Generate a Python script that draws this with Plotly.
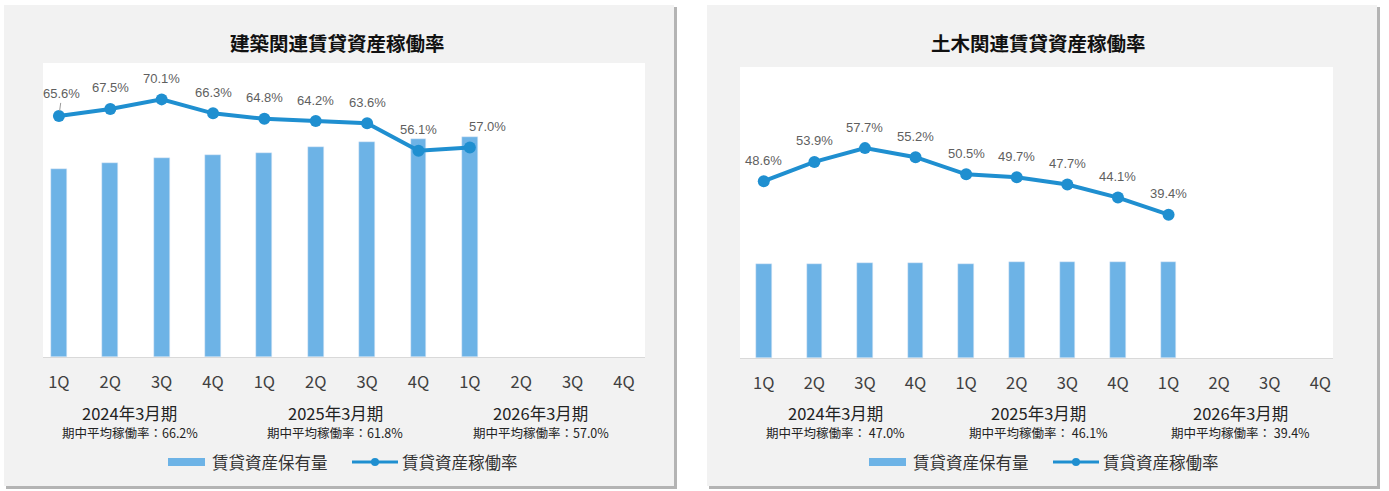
import plotly.graph_objects as go

# ---- data -------------------------------------------------------------
quarters = ["1Q", "2Q", "3Q", "4Q", "1Q", "2Q", "3Q", "4Q", "1Q", "2Q", "3Q", "4Q"]
periods = ["2024年3月期", "2025年3月期", "2026年3月期"]

bld_title = "建築関連賃貸資産稼働率"
bld_rate = [65.6, 67.5, 70.1, 66.3, 64.8, 64.2, 63.6, 56.1, 57.0]
bld_holdings = [64.0, 66.1, 67.8, 68.8, 69.5, 71.6, 73.3, 74.3, 75.0]
bld_avg = [66.2, 61.8, 57.0]

civ_title = "土木関連賃貸資産稼働率"
civ_rate = [48.6, 53.9, 57.7, 55.2, 50.5, 49.7, 47.7, 44.1, 39.4]
civ_holdings = [32.3, 32.3, 32.5, 32.5, 32.3, 33.1, 33.1, 33.1, 33.1]
civ_avg = [47.0, 46.1, 39.4]

bar_name = "賃貸資産保有量"
line_name = "賃貸資産稼働率"
avg_label = "期中平均稼働率"

# ---- styling ----------------------------------------------------------
W, H = 1389, 491
BAR = "#6db3e6"
LINE = "#1f8fd0"
CARD = "#f2f2f2"
SHADOW = "#b4b4b4"
CJK = "Noto Sans CJK JP, Noto Sans, sans-serif"
NUM = "Liberation Sans, Arial, sans-serif"


def px(x):
    return x / W


def py(y):
    return 1 - y / H


panels = [
    dict(title=bld_title, rate=bld_rate, hold=bld_holdings, avg=bld_avg,
         card=(4, 5, 674, 486), plot=(43, 63, 645, 357), xr=(-0.31, 11.41),
         title_x=337, legend_x=168, sep="：", xs="x", yb="y", yl="y2",
         shifts={0: (3, True), 8: (18, False)}, year_dx=-6),
    dict(title=civ_title, rate=civ_rate, hold=civ_holdings, avg=civ_avg,
         card=(707, 5, 1377, 486), plot=(740, 67, 1333, 358), xr=(-0.47, 11.25),
         title_x=1038, legend_x=869, sep="： ", xs="x2", yb="y3", yl="y4",
         shifts={}, year_dx=-4),
]

fig = go.Figure()
shapes = []
annotations = []


def note(**kw):
    kw.setdefault("showarrow", False)
    kw.setdefault("xanchor", "center")
    kw.setdefault("yanchor", "middle")
    annotations.append(kw)


for i, p in enumerate(panels):
    n = len(p["rate"])
    xs = list(range(n))
    fig.add_trace(go.Bar(x=xs, y=p["hold"], name=bar_name, marker_color=BAR,
                         width=0.31, xaxis=p["xs"], yaxis=p["yb"], showlegend=False))
    fig.add_trace(go.Scatter(x=xs, y=p["rate"], name=line_name, mode="lines+markers",
                             line=dict(color=LINE, width=4),
                             marker=dict(color=LINE, size=12),
                             xaxis=p["xs"], yaxis=p["yl"], showlegend=False))

    # card with a soft drop shadow, then the white plot area
    cx0, cy0, cx1, cy1 = p["card"]
    shapes.append(dict(type="rect", xref="paper", yref="paper", layer="below",
                       x0=px(cx0 + 2), x1=px(cx1 + 3), y0=py(cy0 + 2), y1=py(cy1 + 3),
                       fillcolor=SHADOW, line_width=0))
    shapes.append(dict(type="rect", xref="paper", yref="paper", layer="below",
                       x0=px(cx0), x1=px(cx1), y0=py(cy0), y1=py(cy1),
                       fillcolor=CARD, line_width=0))
    shapes.append(dict(type="rect", xref=p["xs"] + " domain", yref=p["yb"] + " domain",
                       layer="below", x0=0, x1=1, y0=0, y1=1,
                       fillcolor="white", line_width=0))

    # title
    note(text="<b>" + p["title"] + "</b>", xref="paper", yref="paper",
         x=px(p["title_x"]), y=py(42),
         font=dict(family=CJK, size=19.5, color="#111111"))

    # value labels above each point
    for k, v in enumerate(p["rate"]):
        dx, arrow = p["shifts"].get(k, (0, False))
        a = dict(text=f"{v:.1f}%", xref=p["xs"], yref=p["yl"], x=k, y=v,
                 font=dict(family=NUM, size=13, color="#5f5f5f"))
        if arrow:
            a.update(showarrow=True, arrowhead=0, arrowwidth=1, arrowcolor="#9a9a9a",
                     ax=dx, ay=-22, standoff=5)
        else:
            a.update(xshift=dx, yshift=21)
        note(**a)

    # fiscal period captions under the quarter ticks
    for j, (per, avg) in enumerate(zip(periods, p["avg"])):
        note(text=per, xref=p["xs"], yref="paper", x=1.5 + 4 * j, y=py(413),
             xshift=p["year_dx"], font=dict(family=CJK, size=16.5, color="#222222"))
        note(text=f"{avg_label}{p['sep']}{avg:.1f}%", xref=p["xs"], yref="paper",
             x=1.5 + 4 * j, y=py(432), xshift=p["year_dx"],
             font=dict(family=CJK, size=12.5, color="#222222"))

    # legend row
    lx = p["legend_x"]
    ly = 462
    shapes.append(dict(type="rect", xref="paper", yref="paper",
                       x0=px(lx), x1=px(lx + 37), y0=py(ly - 4), y1=py(ly + 4),
                       fillcolor=BAR, line_width=0))
    note(text=bar_name, xref="paper", yref="paper", x=px(lx + 42), y=py(ly),
         xanchor="left", font=dict(family=CJK, size=16.5, color="#333333"))
    shapes.append(dict(type="line", xref="paper", yref="paper",
                       x0=px(lx + 184), x1=px(lx + 230), y0=py(ly), y1=py(ly),
                       line=dict(color=LINE, width=3)))
    shapes.append(dict(type="circle", xref="paper", yref="paper",
                       x0=px(lx + 203), x1=px(lx + 211), y0=py(ly - 4), y1=py(ly + 4),
                       fillcolor=LINE, line_width=0))
    note(text=line_name, xref="paper", yref="paper", x=px(lx + 232), y=py(ly),
         xanchor="left", font=dict(family=CJK, size=16.5, color="#333333"))

xaxis_common = dict(tickmode="array", tickvals=list(range(len(quarters))), ticktext=quarters,
                    showgrid=False, zeroline=False, showline=True, linecolor="#d9d9d9",
                    linewidth=1, ticks="", ticklabelstandoff=10,
                    tickfont=dict(family=CJK, size=16.5, color="#404040"), fixedrange=True)
yaxis_hidden = dict(visible=False, showgrid=False, zeroline=False, fixedrange=True)

p0, p1 = panels
fig.update_layout(
    width=W, height=H,
    margin=dict(l=0, r=0, t=0, b=0),
    paper_bgcolor="white", plot_bgcolor="rgba(0,0,0,0)",
    showlegend=False, bargap=0,
    xaxis=dict(domain=[px(p0["plot"][0]), px(p0["plot"][2])], range=list(p0["xr"]),
               anchor="y", **xaxis_common),
    yaxis=dict(domain=[py(p0["plot"][3]), py(p0["plot"][1])], range=[0, 100],
               anchor="x", **yaxis_hidden),
    yaxis2=dict(overlaying="y", range=[0, 80], anchor="x", **yaxis_hidden),
    xaxis2=dict(domain=[px(p1["plot"][0]), px(p1["plot"][2])], range=list(p1["xr"]),
                anchor="y3", **xaxis_common),
    yaxis3=dict(domain=[py(p1["plot"][3]), py(p1["plot"][1])], range=[0, 100],
                anchor="x2", **yaxis_hidden),
    yaxis4=dict(overlaying="y3", range=[0, 80], anchor="x2", **yaxis_hidden),
    shapes=shapes,
    annotations=annotations,
)

fig.write_html("out.html")
